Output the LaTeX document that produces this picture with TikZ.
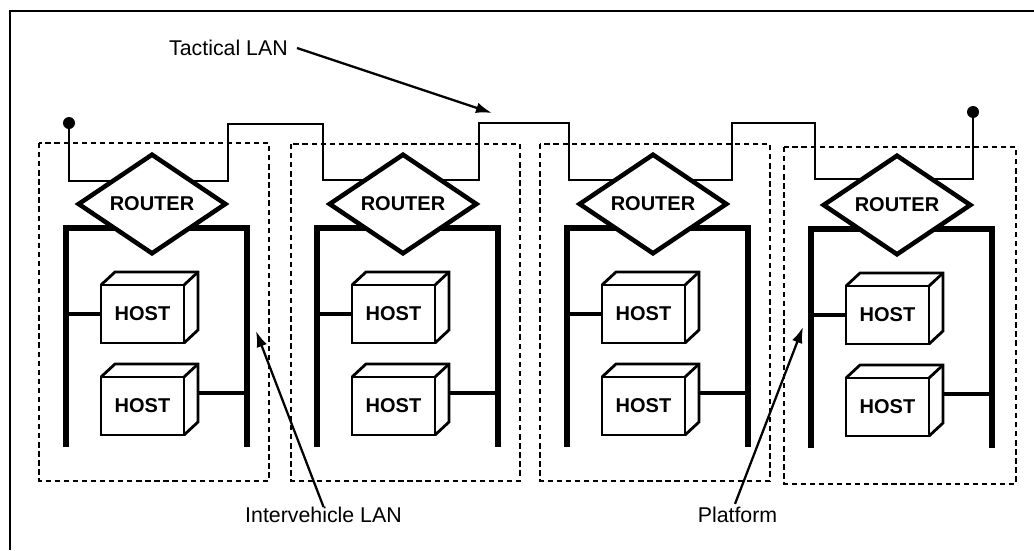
\documentclass[tikz,border=0pt]{standalone}
\usepackage{fontspec}
\setmainfont{Liberation Sans}
\usetikzlibrary{shapes.geometric,arrows.meta,calc}
\begin{document}
\begin{tikzpicture}[x=0.75pt,y=-0.75pt,
  frame/.style={line width=1.8pt},
  platform/.style={line width=2.2pt, dash pattern=on 4pt off 2.8pt},
  tac/.style={line width=1.7pt},
  bus/.style={line width=4pt},
  conn/.style={line width=3.4pt},
  router/.style={diamond, draw, line width=3.4pt, fill=white, inner sep=0pt, outer sep=0pt,
    minimum width=110pt, minimum height=64.5pt, font=\fontsize{15}{17}\selectfont\bfseries},
  host/.style={draw, line width=2.1pt, fill=white, inner sep=0pt, outer sep=0pt,
    minimum width=62.25pt, minimum height=43.5pt, font=\fontsize{15}{17}\selectfont\bfseries},
  cubeline/.style={line width=2.1pt, line join=miter},
  lbl/.style={font=\fontsize{16}{18}\selectfont, inner sep=0pt},
  pointer/.style={line width=1.7pt, -{Latex[length=12pt,width=8pt]}},
  dot/.style={circle, fill, inner sep=0pt, minimum size=9pt}
]
\useasboundingbox (0,0) rectangle (1034,550);
\fill[white] (0,0) rectangle (1034,550);
% outer frame
\draw[frame] (10,550) -- (10,11) -- (1034,11);
% platforms
\draw[platform] (39,143) rectangle (269,481);
\draw[platform] (291,144) rectangle (520,481);
\draw[platform] (540,144) rectangle (770,481);
\draw[platform] (784,147) rectangle (1016,484);
% tactical LAN
\node[dot] (d1) at (69,123) {};
\node[dot] (d2) at (973,112) {};
\draw[tac] (d1.center) -- (69,181) -- (228,181) -- (228,124) -- (323,124) -- (323,180)
  -- (479,180) -- (479,123) -- (569,123) -- (569,180) -- (732,180) -- (732,123)
  -- (815,123) -- (815,179) -- (973,179) -- (d2.center);
% vehicles
\foreach \i/\cx/\dy in {1/152/0,2/403/0,3/653/0,4/897/1} {
  \coordinate (bl\i) at ({\cx-86},{228+\dy});
  \coordinate (br\i) at ({\cx+95},{228+\dy});
  \draw[bus, line cap=butt, line join=miter] ({\cx-86},{447+\dy}) -- (bl\i) -- (br\i) -- ({\cx+95},{447+\dy});
  \node[router] (r\i) at (\cx,{204+\dy}) {ROUTER};
  \node[host] (ha\i) at ({\cx-9.5},{314+\dy}) {HOST};
  \node[host] (hb\i) at ({\cx-9.5},{406+\dy}) {HOST};
  \draw[cubeline] (ha\i.north west) -- ++(14,-13) -| ($(ha\i.south east)+(14,-13)$) -- (ha\i.south east);
  \draw[cubeline] (ha\i.north east) -- ++(14,-13);
  \draw[cubeline] (hb\i.north west) -- ++(14,-13) -| ($(hb\i.south east)+(14,-13)$) -- (hb\i.south east);
  \draw[cubeline] (hb\i.north east) -- ++(14,-13);
  \coordinate (hs\i) at ($(hb\i.east)+(14,-13)$);
  \draw[conn] (ha\i.west) -- (ha\i.west -| bl\i);
  \draw[conn] (hs\i) -- (hs\i -| br\i);
}
% labels
\node[lbl, anchor=east] (tl) at (288,48) {Tactical LAN};
\node[lbl] (iv) at (323.5,515) {Intervehicle LAN};
\node[lbl] (pf) at (737.5,515) {Platform};
\coordinate (t1) at (492,113);
\coordinate (t2) at (256,331);
\coordinate (t3) at (803,327);
\draw[pointer] (tl.east) ++(9,0) -- (t1);
\draw[pointer] (iv.north) -- (t2);
\draw[pointer] (pf.north) ++(-2.5,-3) -- (t3);
\end{tikzpicture}
\end{document}
